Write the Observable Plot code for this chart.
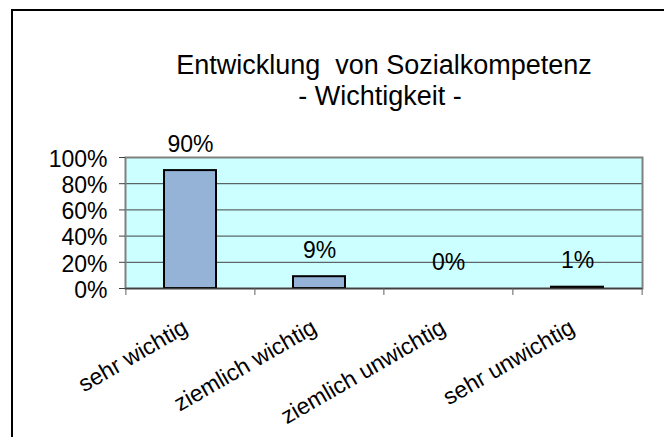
<!DOCTYPE html>
<html>
<head>
<meta charset="utf-8">
<script src="https://cdn.jsdelivr.net/npm/d3@7"></script>
<script src="https://cdn.jsdelivr.net/npm/@observablehq/plot@0.6"></script>
<style>
  html, body { margin: 0; padding: 0; background: #fff; overflow: hidden; width: 664px; height: 437px; }
  #chart svg { display: block; }
  #bt { position: absolute; left: 11px; top: 9px; width: 653px; height: 2px; background: #000; }
  #bl { position: absolute; left: 11px; top: 9px; width: 2px; height: 428px; background: #000; }
  svg text { white-space: pre; }
</style>
</head>
<body>
<div id="chart"></div><div id="bt"></div><div id="bl"></div>
<script>
const categories = ["sehr wichtig", "ziemlich wichtig", "ziemlich unwichtig", "sehr unwichtig"];
const values = [90, 9, 0, 1];
const valueLabels = ["90%", "9%", "0%", "1%"];
const yTicks = [0, 20, 40, 60, 80, 100];
const yTickLabels = ["0%", "20%", "40%", "60%", "80%", "100%"];
const titleLines = ["Entwicklung  von Sozialkompetenz", "- Wichtigkeit -"];

const W = 664, H = 437, mL = 125, mR = 22, mT = 157, mB = 149;
const step = (W - mL - mR) / categories.length;
const data = categories.map((c, i) => ({cat: c, val: values[i], label: valueLabels[i]}));
const font = "'Liberation Sans', Arial, Helvetica, sans-serif";
const yFmt = d => yTickLabels[yTicks.indexOf(d)];

const plot = Plot.plot({
  width: W, height: H,
  marginLeft: mL, marginRight: mR, marginTop: mT, marginBottom: mB,
  style: {fontFamily: font, background: "transparent", color: "#000", overflow: "hidden"},
  x: {domain: categories, paddingInner: 0.6, paddingOuter: 0.3},
  y: {domain: [0, 100]},
  marks: [
    Plot.frame({fill: "#CCFFFF", stroke: "none"}),
    Plot.ruleY(yTicks.slice(1, -1), {stroke: "#404040", strokeWidth: 1}),
    Plot.frame({stroke: "#808080", strokeWidth: 2}),
    Plot.barY(data, {x: "cat", y: "val", fill: "#95B3D7", stroke: "#000", strokeWidth: 2}),
    Plot.ruleY([0], {stroke: "#404040", strokeWidth: 1.5}),
    Plot.text(data, {x: "cat", y: "val", text: "label", lineAnchor: "bottom", dy: -19, fontSize: 23, fill: "#000"}),
    Plot.axisY({ticks: yTicks, tickSize: 6, tickFormat: () => "", stroke: "#404040", label: null}),
    Plot.axisY({ticks: yTicks, tickSize: 0, tickPadding: 18, tickFormat: yFmt, fontSize: 23, fill: "#000", dy: 2, label: null}),
    Plot.axisX({tickSize: 7, tickFormat: () => "", dx: -step / 2, stroke: "#606060", label: null}),
    Plot.axisX({ticks: [categories[categories.length - 1]], tickSize: 7, tickFormat: () => "", dx: step / 2, stroke: "#606060", label: null}),
    Plot.text(categories, {x: d => d, text: d => d, frameAnchor: "bottom", rotate: -30,
      textAnchor: "end", lineAnchor: "middle", dx: -5, dy: 37, fontSize: 23, fill: "#000"}),
    Plot.text([titleLines[0]], {text: d => d, frameAnchor: "top", lineAnchor: "bottom", dy: -84, fontSize: 27, fill: "#000"}),
    Plot.text([titleLines[1]], {text: d => d, frameAnchor: "top", lineAnchor: "bottom", dx: -4, dy: -53, fontSize: 27, fill: "#000"})
  ]
});
document.getElementById("chart").appendChild(plot);
</script>
</body>
</html>
